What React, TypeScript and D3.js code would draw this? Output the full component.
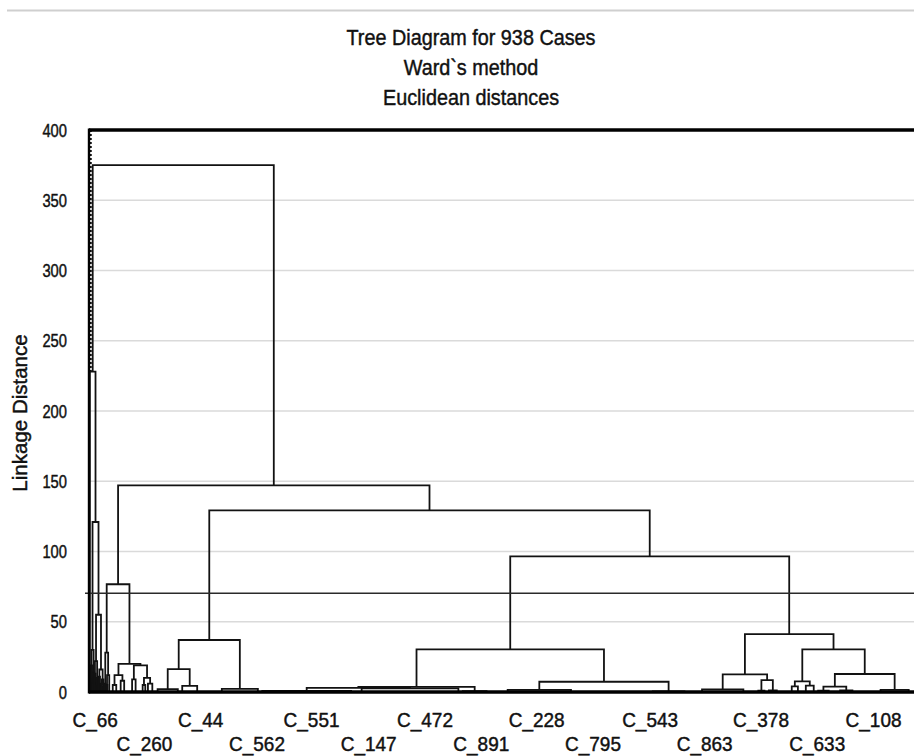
import * as d3 from "d3";

// dendrogram node: a leaf is a case position (case order), a merge is [height, left, right]
type Tree = number | [number, Tree, Tree];

const TOTAL_CASES = 938;
const titleLines = ["Tree Diagram for 938 Cases", "Ward`s method", "Euclidean distances"];
const yTicks = [0, 50, 100, 150, 200, 250, 300, 350, 400];
const gridValues = [50, 100, 150, 200, 250, 300, 350];
const cutLevel = 70.3;

// case labels along the bottom (case order position, text)
const caseLabelPos = [7, 63, 127, 191, 253, 318, 382, 446, 509, 573, 638, 700, 764, 828, 892];
const caseLabelText = [
  "C_66", "C_260", "C_44", "C_562", "C_551", "C_147", "C_472", "C_891",
  "C_228", "C_795", "C_543", "C_863", "C_378", "C_633", "C_108",
];

// heavily chained block at the far left
const crowdB: Tree = [30, [19, 2, [10, 3, 4]], [14, [6, 4, 5], 6]];
const crowdC: Tree = [22, [13, 6, [7, 7, 8]], [10, [5, 8, 9], 10]];
const crowdD: Tree = [16, [11, 11, [6, 12, 13]], [9, [4, 14, 15], [5, 16, 17]]];
const leftChain: Tree = [228, 1, [121, crowdB, [55, crowdC, crowdD]]];
const leaderCase = 2;
const leaderFrom = 228;

const group77: Tree = [76.7,
  [28, [6, 18, 19], [12, [5, 20, 21], 23]],
  [20, [12, [5, 27, 31], [8, 36, 40]], [19, [9, 49, 53], [10, [5, 61, 64], [6, 67, 72]]]]];

const group37: Tree = [37, [16.3, [2, 78, 101], [4.3, 106, 123]], [2.2, 151, 192]];

const group30: Tree = [30.3,
  [3.6, [3.0, [0.8, 197, 298], [2.6, 310, 420]], [0.6, 425, 452]],
  [7.3, [1.5, 476, 548], [0.5, 641, 677]]];

const group41: Tree = [41.2,
  [12.5, [1.8, 697, 744], [8.5, [1, 761, 768], [1.2, 773, 782]]],
  [30.3, [7.5, [4, 799, 806], [4.5, 815, 824]],
    [12.8, [3.8, [1, 829, 841], [1.2, 854, 868]], [1.5, 900, 932]]]];

const fullTree: Tree = [375, leftChain, [147, group77, [129.3, group37, [96.6, group30, group41]]]];

const W = 914;
const H = 756;
const FONT = "'Liberation Sans', Arial, Helvetica, sans-serif";
const INK = "#111";

const x = d3.scaleLinear().domain([0, TOTAL_CASES]).range([89, 914]);
const y = d3.scaleLinear().domain([0, 400]).range([692, 130]);

function layout(t: Tree, out: string[]): { cx: number; h: number } {
  if (typeof t === "number") return { cx: t, h: 0 };
  const [h, l, r] = t;
  const a = layout(l, out);
  const b = layout(r, out);
  const p = d3.path();
  p.moveTo(x(a.cx), y(a.h));
  p.lineTo(x(a.cx), y(h));
  p.lineTo(x(b.cx), y(h));
  p.lineTo(x(b.cx), y(b.h));
  out.push(p.toString());
  return { cx: (a.cx + b.cx) / 2, h };
}

export default function App() {
  const links: string[] = [];
  layout(fullTree, links);

  const textProps = { fontFamily: FONT, fill: INK, stroke: INK, strokeWidth: 0.45 };

  return (
    <svg width={W} height={H} style={{ position: "absolute", left: 0, top: 0, background: "#fff" }}>
      <rect width={W} height={H} fill="#fff" />
      <line x1={7} x2={W} y1={10.5} y2={10.5} stroke="#cfcfcf" strokeWidth={2} />

      {titleLines.map((t, i) => (
        <text key={t} transform={`translate(471,${45 + i * 30}) scale(0.88,1)`} textAnchor="middle"
          fontSize={22.5} {...textProps}>{t}</text>
      ))}

      {gridValues.map(v => (
        <line key={v} x1={x(0)} x2={W} y1={y(v)} y2={y(v)} stroke="#dadada" strokeWidth={1.3} />
      ))}

      {yTicks.map(v => (
        <text key={v} transform={`translate(67,${y(v) + 6.5}) scale(0.82,1)`} textAnchor="end"
          fontSize={18} {...textProps}>{v}</text>
      ))}

      <text transform={`translate(27,${413}) rotate(-90)`} textAnchor="middle"
        fontSize={20.5} {...textProps}>Linkage Distance</text>

      <line x1={x(leaderCase)} x2={x(leaderCase)} y1={y(400)} y2={y(leaderFrom)}
        stroke={INK} strokeWidth={2} strokeDasharray="2 2" />

      {links.map((d, i) => (
        <path key={i} d={d} fill="none" stroke="#121212" strokeWidth={1.8} />
      ))}

      <line x1={85} x2={W} y1={y(cutLevel)} y2={y(cutLevel)} stroke="#2a2a2a" strokeWidth={1.3} />

      <line x1={x(0)} x2={W} y1={y(400)} y2={y(400)} stroke="#000" strokeWidth={3.5} />
      <line x1={x(0)} x2={x(0)} y1={y(400) - 1.5} y2={y(0) + 1.5} stroke="#000" strokeWidth={2.4} />
      <line x1={x(0)} x2={W} y1={y(0)} y2={y(0)} stroke="#000" strokeWidth={3.5} />

      {caseLabelPos.map((c, i) => (
        <text key={caseLabelText[i]} transform={`translate(${x(c)},${i % 2 === 0 ? 727 : 751}) scale(0.95,1)`}
          textAnchor="middle" fontSize={20} {...textProps}>{caseLabelText[i]}</text>
      ))}
    </svg>
  );
}
